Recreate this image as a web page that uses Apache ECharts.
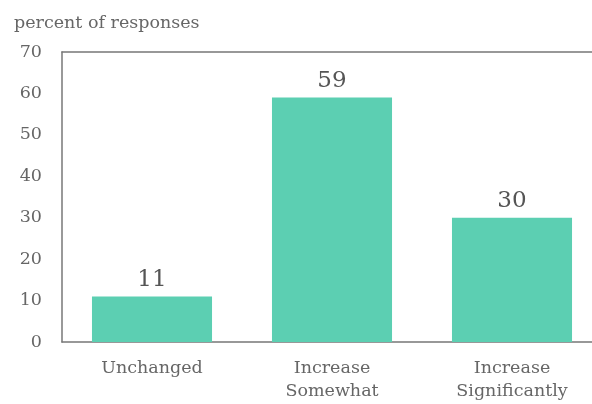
<!DOCTYPE html>
<html><head><meta charset="utf-8">
<script src="https://cdn.jsdelivr.net/npm/echarts@6/dist/echarts.min.js"></script>
<style>html,body{margin:0;padding:0;background:#fff}#c{width:592px;height:404px}</style>
</head><body><div id="c"></div>
<script>
var categories = ['Unchanged', 'Increase\nSomewhat', 'Increase\nSignificantly'];
var values = [11, 59, 30];
var yTicks = [0, 10, 20, 30, 40, 50, 60, 70];
var FONT = 'DejaVu Serif';
var chart = echarts.init(document.getElementById('c'));
chart.setOption({
  animation: false,
  title: {text: 'percent of responses', left: 9, top: 9, textStyle: {fontFamily: FONT, fontSize: 17.5, fontWeight: 'normal', color: '#666'}},
  grid: {left: 62, width: 540, top: 52, bottom: 62, containLabel: false, outerBoundsMode: 'none'},
  xAxis: [{
    type: 'category', data: categories,
    axisLine: {lineStyle: {color: '#777', width: 1.5}},
    axisTick: {show: false},
    axisLabel: {fontFamily: FONT, fontSize: 17.5, color: '#666', margin: 15, lineHeight: 23}
  }, {
    type: 'category', data: categories, position: 'top',
    axisLine: {lineStyle: {color: '#777', width: 1.5}},
    axisTick: {show: false}, axisLabel: {show: false}
  }],
  yAxis: {
    type: 'value', min: yTicks[0], max: yTicks[yTicks.length - 1], interval: 10,
    axisLine: {show: true, lineStyle: {color: '#777', width: 1.5}},
    axisTick: {show: false}, splitLine: {show: false},
    axisLabel: {fontFamily: FONT, fontSize: 17.5, color: '#666', margin: 20}
  },
  series: [{
    type: 'bar', data: values, barWidth: '66.7%', xAxisIndex: 0,
    itemStyle: {color: '#5ccfb2'},
    label: {show: true, position: 'top', distance: 5, fontFamily: FONT, fontSize: 23, color: '#555'}
  }]
});
</script></body></html>
